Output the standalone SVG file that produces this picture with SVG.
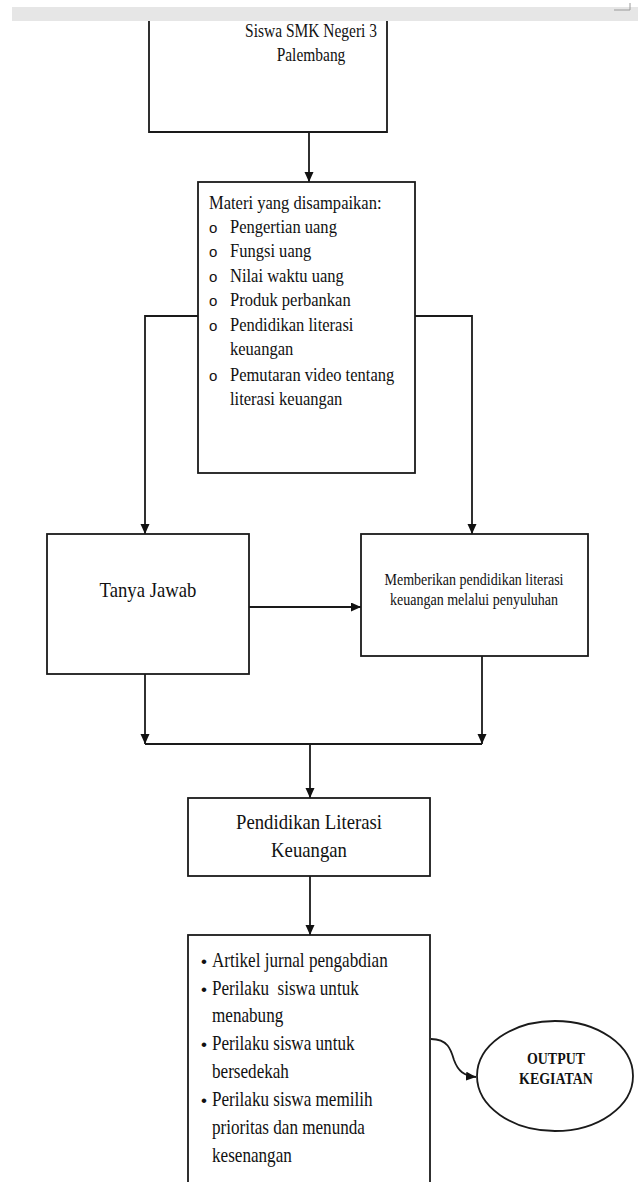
<svg xmlns="http://www.w3.org/2000/svg" width="638" height="1182" viewBox="0 0 638 1182">
<style>
.box{fill:#fff;stroke:#1a1a1a;stroke-width:1.8}
.ln{fill:none;stroke:#1a1a1a;stroke-width:1.8}
.t{font-family:"Liberation Serif","Times New Roman",serif;fill:#111}
.c{text-anchor:middle}
.b{font-weight:bold}
.bul{font-family:"Liberation Sans",Arial,sans-serif;fill:#111}
</style>
<defs>
<marker id="ah" markerUnits="userSpaceOnUse" markerWidth="10" markerHeight="10" refX="10" refY="4.5" orient="auto">
<path d="M0,0 L10,4.5 L0,9 z" fill="#111"/>
</marker>
</defs>
<rect x="0" y="0" width="638" height="1182" fill="#fff"/>

<g id="connectors">
<line class="ln" x1="309" y1="132" x2="309" y2="182" marker-end="url(#ah)"/>
<polyline class="ln" points="198,316 145,316 145,534" marker-end="url(#ah)"/>
<polyline class="ln" points="415,316 472,316 472,534" marker-end="url(#ah)"/>
<line class="ln" x1="249" y1="607" x2="361" y2="607" marker-end="url(#ah)"/>
<line class="ln" x1="145" y1="674" x2="145" y2="744" marker-end="url(#ah)"/>
<line class="ln" x1="482" y1="656" x2="482" y2="744" marker-end="url(#ah)"/>
<line class="ln" x1="145" y1="744" x2="482" y2="744"/>
<line class="ln" x1="310" y1="744" x2="310" y2="798" marker-end="url(#ah)"/>
<line class="ln" x1="310" y1="876" x2="310" y2="935" marker-end="url(#ah)"/>
<path class="ln" d="M431,1039 C448,1039 451,1050 454,1060 C458,1071 464,1076 476,1077" marker-end="url(#ah)"/>
</g>

<g id="node-siswa">
<path class="ln" d="M149,21 V132 H387 V21"/>
<text class="t c" font-size="18" transform="translate(311 37) scale(0.86 1)">Siswa SMK Negeri 3</text>
<text class="t c" font-size="18" transform="translate(311 61) scale(0.86 1)">Palembang</text>
</g>

<g id="node-materi">
<rect class="box" x="198" y="182" width="217" height="291"/>
<text class="t" font-size="19" transform="translate(209 209) scale(0.87 1)">Materi yang disampaikan:</text>
<g class="bul" font-size="15">
<text x="209" y="233">o</text>
<text x="209" y="257">o</text>
<text x="209" y="282">o</text>
<text x="209" y="306">o</text>
<text x="209" y="331">o</text>
<text x="209" y="381">o</text>
</g>
<g transform="translate(230 0) scale(0.87 1)">
<text class="t" font-size="19" x="0" y="233">Pengertian uang</text>
<text class="t" font-size="19" x="0" y="257">Fungsi uang</text>
<text class="t" font-size="19" x="0" y="282">Nilai waktu uang</text>
<text class="t" font-size="19" x="0" y="306">Produk perbankan</text>
<text class="t" font-size="19" x="0" y="331">Pendidikan literasi</text>
<text class="t" font-size="19" x="0" y="355">keuangan</text>
<text class="t" font-size="19" x="0" y="381">Pemutaran video tentang</text>
<text class="t" font-size="19" x="0" y="405">literasi keuangan</text>
</g>
</g>

<g id="node-tanya">
<rect class="box" x="47" y="534" width="202" height="140"/>
<text class="t c" font-size="22" transform="translate(148 597) scale(0.85 1)">Tanya Jawab</text>
</g>

<g id="node-memberikan">
<rect class="box" x="361" y="534" width="227" height="122"/>
<text class="t c" font-size="16.5" transform="translate(474 585) scale(0.85 1)">Memberikan pendidikan literasi</text>
<text class="t c" font-size="16.5" transform="translate(474 605) scale(0.85 1)">keuangan melalui penyuluhan</text>
</g>

<g id="node-pendidikan">
<rect class="box" x="188" y="798" width="242" height="78"/>
<text class="t c" font-size="22" transform="translate(309 829) scale(0.85 1)">Pendidikan Literasi</text>
<text class="t c" font-size="22" transform="translate(309 857) scale(0.85 1)">Keuangan</text>
</g>

<g id="node-hasil">
<rect class="box" x="188" y="935" width="242" height="260"/>
<g class="bul" font-size="17">
<text x="201" y="967">•</text>
<text x="201" y="995">•</text>
<text x="201" y="1050">•</text>
<text x="201" y="1106">•</text>
</g>
<g transform="translate(212 0) scale(0.815 1)" style="white-space:pre">
<text class="t" font-size="21" x="0" y="967">Artikel jurnal pengabdian</text>
<text class="t" font-size="21" x="0" y="995" xml:space="preserve">Perilaku  siswa untuk</text>
<text class="t" font-size="21" x="0" y="1022">menabung</text>
<text class="t" font-size="21" x="0" y="1050">Perilaku siswa untuk</text>
<text class="t" font-size="21" x="0" y="1078">bersedekah</text>
<text class="t" font-size="21" x="0" y="1106">Perilaku siswa memilih</text>
<text class="t" font-size="21" x="0" y="1134">prioritas dan menunda</text>
<text class="t" font-size="21" x="0" y="1162">kesenangan</text>
</g>
</g>

<g id="node-output">
<ellipse class="box" cx="555" cy="1076" rx="78" ry="55"/>
<text class="t c b" font-size="17" transform="translate(556 1064) scale(0.82 1)">OUTPUT</text>
<text class="t c b" font-size="17" transform="translate(556 1084) scale(0.82 1)">KEGIATAN</text>
</g>

<rect x="12" y="7" width="626" height="14" fill="#e6e6e6"/>
<path d="M614,10 H630 V3" fill="none" stroke="#9a9a9a" stroke-width="1"/>
</svg>
